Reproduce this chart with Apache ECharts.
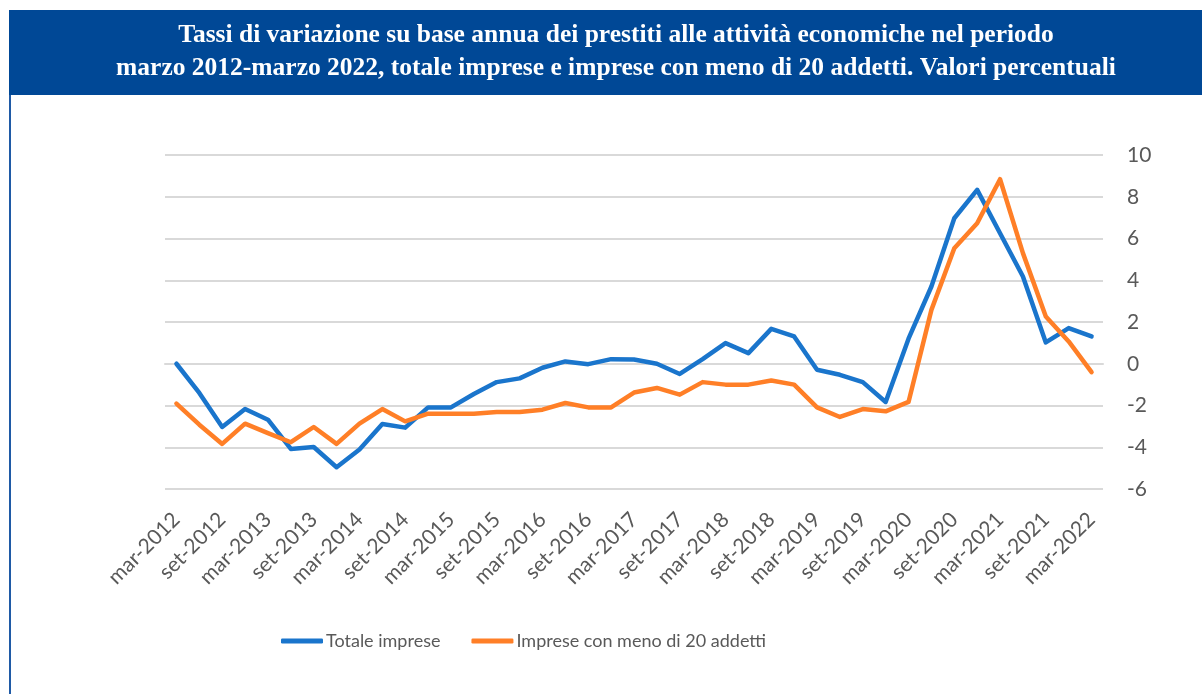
<!DOCTYPE html>
<html>
<head>
<meta charset="utf-8">
<script src="https://cdn.jsdelivr.net/npm/echarts@6/dist/echarts.min.js"></script>
<style>
  html, body { margin: 0; padding: 0; background: #fff; }
  #main { width: 1202px; height: 694px; }
</style>
</head>
<body>
<div id="main"></div>
<script>
// trimestri mar-2012 .. mar-2022
var months = ['mar', 'giu', 'set', 'dic'];
var categories = [];
for (var y = 2012; y <= 2022; y++) {
    for (var m = 0; m < 4; m++) {
        if (y === 2022 && m > 0) break;
        categories.push(months[m] + '-' + y);
    }
}

var totaleImprese = [0.0, -1.4, -3.03, -2.17, -2.68, -4.08, -3.99, -4.96, -4.11, -2.89,
    -3.06, -2.09, -2.09, -1.45, -0.88, -0.70, -0.19, 0.11, -0.02, 0.22,
    0.2, 0.0, -0.49, 0.22, 0.99, 0.51, 1.67, 1.31, -0.29, -0.53,
    -0.88, -1.83, 1.2, 3.7, 6.97, 8.33, 6.25, 4.18, 1.02, 1.71, 1.31];

var impreseMeno20 = [-1.91, -2.92, -3.84, -2.87, -3.32, -3.76, -3.03, -3.84, -2.87, -2.17,
    -2.76, -2.39, -2.39, -2.39, -2.31, -2.31, -2.20, -1.88, -2.09, -2.09,
    -1.38, -1.16, -1.48, -0.88, -1.0, -1.0, -0.80, -1.0, -2.09, -2.55,
    -2.17, -2.28, -1.83, 2.58, 5.53, 6.73, 8.84, 5.30, 2.26, 1.07, -0.40];

var seriesNames = ['Totale imprese', 'Imprese con meno di 20 addetti'];
var titleText = 'Tassi di variazione su base annua dei prestiti alle attività economiche nel periodo\n' +
    'marzo 2012-marzo 2022, totale imprese e imprese con meno di 20 addetti. Valori percentuali';

var textColor = '#595959';
var font = 'Lato, "Liberation Sans", sans-serif';

var myChart = echarts.init(document.getElementById('main'));
var option = {
    animation: false,
    backgroundColor: '#fff',
    graphic: [
        {
            type: 'rect',
            shape: { x: 9, y: 10, width: 1193, height: 85 },
            style: { fill: '#004896' }
        },
        {
            type: 'rect',
            shape: { x: 9, y: 95, width: 2, height: 599 },
            style: { fill: '#1F5AA6' }
        },
        {
            type: 'text',
            x: 616,
            y: 52,
            style: {
                text: titleText,
                fill: '#fff',
                font: 'bold 25.5px "Liberation Serif", "DejaVu Serif", serif',
                textAlign: 'center',
                textVerticalAlign: 'middle',
                lineHeight: 33
            }
        }
    ],
    legend: {
        data: seriesNames,
        left: 276,
        top: 627,
        icon: 'roundRect',
        itemWidth: 42,
        itemHeight: 5,
        itemGap: 31,
        textStyle: {
            color: textColor,
            fontSize: 18,
            fontFamily: font,
            padding: [0, 0, 0, -2]
        }
    },
    grid: {
        left: 165,
        right: 99,
        top: 155,
        bottom: 205
    },
    xAxis: {
        type: 'category',
        boundaryGap: true,
        data: categories,
        axisLine: { lineStyle: { color: '#d9d9d9', width: 2 } },
        axisTick: { show: false },
        axisLabel: {
            interval: 1,
            rotate: 45,
            margin: 27,
            color: textColor,
            fontSize: 21,
            fontFamily: font
        }
    },
    yAxis: {
        type: 'value',
        position: 'right',
        min: -6,
        max: 10,
        interval: 2,
        axisLine: { show: false },
        axisTick: { show: false },
        axisLabel: {
            margin: 24,
            color: textColor,
            fontSize: 21,
            fontFamily: font
        },
        splitLine: { lineStyle: { color: '#d9d9d9', width: 2 } }
    },
    series: [
        {
            name: seriesNames[0],
            type: 'line',
            data: totaleImprese,
            showSymbol: false,
            color: '#1A75CC',
            lineStyle: { width: 4.5, cap: 'round', join: 'round' }
        },
        {
            name: seriesNames[1],
            type: 'line',
            data: impreseMeno20,
            showSymbol: false,
            color: '#FF7F27',
            lineStyle: { width: 4.5, cap: 'round', join: 'round' }
        }
    ]
};
myChart.setOption(option);
</script>
</body>
</html>
